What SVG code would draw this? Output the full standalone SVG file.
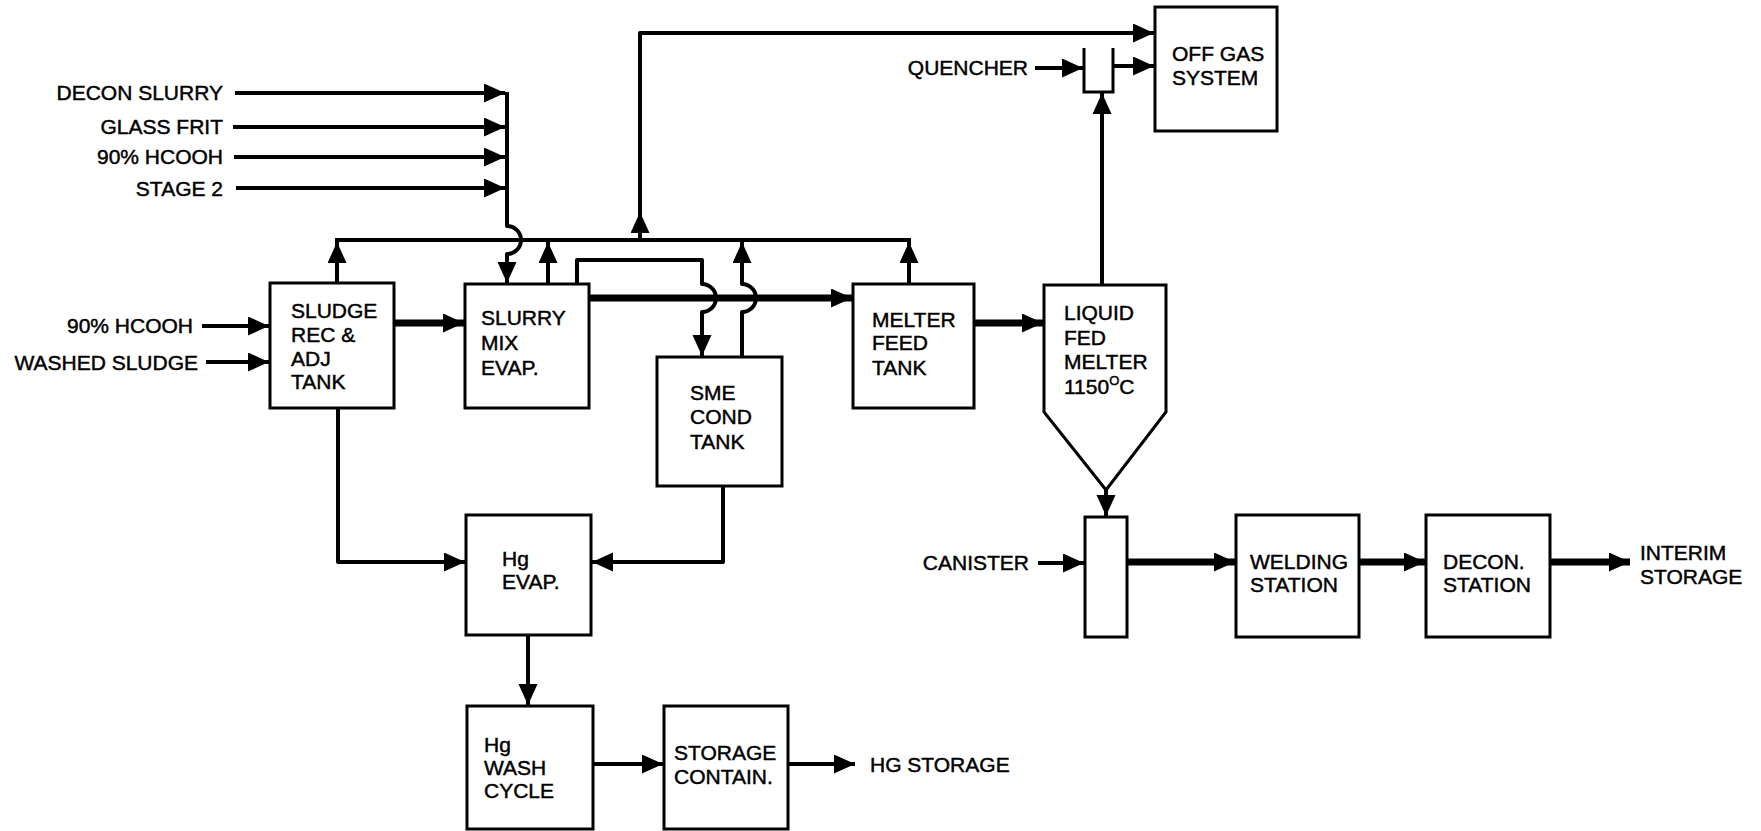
<svg xmlns="http://www.w3.org/2000/svg" width="1761" height="831" viewBox="0 0 1761 831">
<style>
  .box { fill: #fff; stroke: #000; stroke-width: 3; }
  .ln { fill: none; stroke: #000; stroke-width: 4; stroke-linejoin: round; }
  .thk { fill: none; stroke: #000; stroke-width: 7; }
  text { font-family: "Liberation Sans", Arial, sans-serif; font-size: 21px; fill: #000; stroke: #000; stroke-width: 0.45; }
  .r { text-anchor: end; }
</style>
<defs>
  <marker id="ah" markerUnits="userSpaceOnUse" markerWidth="23" markerHeight="20" refX="21" refY="9.5" orient="auto">
    <path d="M0,0 L21,9.5 L0,19 z" fill="#000"/>
  </marker>
</defs>
<rect width="1761" height="831" fill="#fff"/>

<g id="connectors">
  <!-- feed inputs to bus -->
  <line class="ln" x1="235" y1="93" x2="505" y2="93" marker-end="url(#ah)"/>
  <line class="ln" x1="233" y1="127" x2="505" y2="127" marker-end="url(#ah)"/>
  <line class="ln" x1="234" y1="157" x2="505" y2="157" marker-end="url(#ah)"/>
  <line class="ln" x1="236" y1="188" x2="505" y2="188" marker-end="url(#ah)"/>
  <path class="ln" d="M507,92 V226 A14,14 0 0 1 507,254 V283" marker-end="url(#ah)"/>
  <!-- vent bus -->
  <line class="ln" x1="335" y1="240" x2="911" y2="240"/>
  <line class="ln" x1="337" y1="283" x2="337" y2="242" marker-end="url(#ah)"/>
  <line class="ln" x1="548" y1="283" x2="548" y2="242" marker-end="url(#ah)"/>
  <line class="ln" x1="909" y1="283" x2="909" y2="242" marker-end="url(#ah)"/>
  <path class="ln" d="M742,357 V312 A14,14 0 0 0 742,284 V242" marker-end="url(#ah)"/>
  <line class="ln" x1="640" y1="240" x2="640" y2="212" marker-end="url(#ah)"/>
  <path class="ln" d="M640,214 V33 H1154" marker-end="url(#ah)"/>
  <!-- slurry to SME cond tank -->
  <path class="ln" d="M577,283 V260 H702 V284 A14,14 0 0 1 702,312 V356" marker-end="url(#ah)"/>
  <!-- left inputs -->
  <line class="ln" x1="202" y1="326" x2="269" y2="326" marker-end="url(#ah)"/>
  <line class="ln" x1="206" y1="362" x2="269" y2="362" marker-end="url(#ah)"/>
  <!-- thick process flow -->
  <line class="thk" x1="394" y1="323" x2="464" y2="323" marker-end="url(#ah)"/>
  <line class="thk" x1="589" y1="298" x2="852" y2="298" marker-end="url(#ah)"/>
  <line class="thk" x1="974" y1="323" x2="1043" y2="323" marker-end="url(#ah)"/>
  <line class="thk" x1="1127" y1="562" x2="1235" y2="562" marker-end="url(#ah)"/>
  <line class="thk" x1="1359" y1="562" x2="1425" y2="562" marker-end="url(#ah)"/>
  <line class="thk" x1="1550" y1="562" x2="1630" y2="562" marker-end="url(#ah)"/>
  <!-- melter off gas -->
  <line class="ln" x1="1102" y1="285" x2="1102" y2="93" marker-end="url(#ah)"/>
  <line class="ln" x1="1035" y1="68" x2="1083" y2="68" marker-end="url(#ah)"/>
  <line class="ln" x1="1113" y1="66" x2="1154" y2="66" marker-end="url(#ah)"/>
  <!-- melter to canister -->
  <line class="ln" x1="1106" y1="490" x2="1106" y2="516" marker-end="url(#ah)"/>
  <line class="ln" x1="1038" y1="563" x2="1084" y2="563" marker-end="url(#ah)"/>
  <!-- Hg route -->
  <path class="ln" d="M338,408 V562 H465" marker-end="url(#ah)"/>
  <path class="ln" d="M723,486 V562 H592" marker-end="url(#ah)"/>
  <line class="ln" x1="528" y1="635" x2="528" y2="705" marker-end="url(#ah)"/>
  <line class="ln" x1="593" y1="764" x2="663" y2="764" marker-end="url(#ah)"/>
  <line class="ln" x1="788" y1="764" x2="855" y2="764" marker-end="url(#ah)"/>
</g>

<g id="labels">
  <text class="r" x="223" y="100">DECON SLURRY</text>
  <text class="r" x="223" y="134">GLASS FRIT</text>
  <text class="r" x="223" y="164">90% HCOOH</text>
  <text class="r" x="223" y="196">STAGE 2</text>
  <text class="r" x="193" y="333">90% HCOOH</text>
  <text class="r" x="198" y="370">WASHED SLUDGE</text>
  <text class="r" x="1028" y="75">QUENCHER</text>
  <text class="r" x="1029" y="570">CANISTER</text>
  <text x="1640" y="560">INTERIM</text>
  <text x="1640" y="584">STORAGE</text>
  <text x="870" y="772">HG STORAGE</text>
</g>

<g id="sludge-rec">
  <rect class="box" x="270" y="283" width="124" height="125"/>
  <text x="291" y="318">SLUDGE</text>
  <text x="291" y="342">REC &amp;</text>
  <text x="291" y="366">ADJ</text>
  <text x="291" y="389">TANK</text>
</g>
<g id="slurry-mix">
  <rect class="box" x="465" y="284" width="124" height="124"/>
  <text x="481" y="325">SLURRY</text>
  <text x="481" y="350">MIX</text>
  <text x="481" y="375">EVAP.</text>
</g>
<g id="sme-cond">
  <rect class="box" x="657" y="357" width="125" height="129"/>
  <text x="690" y="400">SME</text>
  <text x="690" y="424">COND</text>
  <text x="690" y="449">TANK</text>
</g>
<g id="melter-feed">
  <rect class="box" x="853" y="284" width="121" height="124"/>
  <text x="872" y="327">MELTER</text>
  <text x="872" y="350">FEED</text>
  <text x="872" y="375">TANK</text>
</g>
<g id="liquid-fed-melter">
  <polygon class="box" points="1044,285 1166,285 1166,412 1106,490 1044,412"/>
  <text x="1064" y="320">LIQUID</text>
  <text x="1064" y="345">FED</text>
  <text x="1064" y="369">MELTER</text>
  <text x="1064" y="394">1150<tspan dy="-9" font-size="13">O</tspan><tspan dy="9">C</tspan></text>
</g>
<g id="quencher">
  <path class="box" d="M1084,48 V92 H1113 V48" style="fill:none"/>
</g>
<g id="off-gas">
  <rect class="box" x="1155" y="7" width="122" height="124"/>
  <text x="1172" y="61">OFF GAS</text>
  <text x="1172" y="85">SYSTEM</text>
</g>
<g id="canister">
  <rect class="box" x="1085" y="517" width="42" height="120"/>
</g>
<g id="welding">
  <rect class="box" x="1236" y="515" width="123" height="122"/>
  <text x="1250" y="569">WELDING</text>
  <text x="1250" y="592">STATION</text>
</g>
<g id="decon-station">
  <rect class="box" x="1426" y="515" width="124" height="122"/>
  <text x="1443" y="569">DECON.</text>
  <text x="1443" y="592">STATION</text>
</g>
<g id="hg-evap">
  <rect class="box" x="466" y="515" width="125" height="120"/>
  <text x="502" y="566">Hg</text>
  <text x="502" y="589">EVAP.</text>
</g>
<g id="hg-wash">
  <rect class="box" x="467" y="706" width="126" height="123"/>
  <text x="484" y="752">Hg</text>
  <text x="484" y="775">WASH</text>
  <text x="484" y="798">CYCLE</text>
</g>
<g id="storage-contain">
  <rect class="box" x="664" y="706" width="124" height="123"/>
  <text x="674" y="760">STORAGE</text>
  <text x="674" y="784">CONTAIN.</text>
</g>
</svg>
